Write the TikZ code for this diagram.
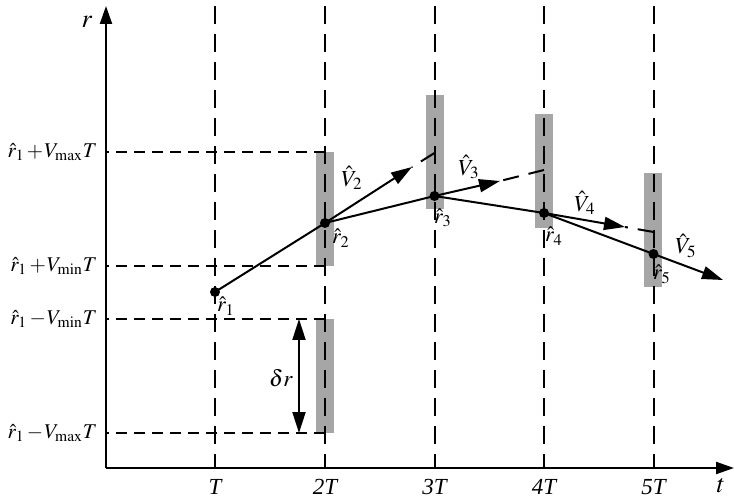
\documentclass[tikz,border=0pt]{standalone}
\usepackage{mathptmx}
\usepackage[no-math]{fontspec}
\setmainfont{Liberation Serif}
\usetikzlibrary{arrows.meta,positioning}
\definecolor{bandgray}{RGB}{166,166,166}

\begin{document}
\fontsize{11}{13}\selectfont
\begin{tikzpicture}[x=0.5pt,y=-0.5pt,>={Triangle[length=10.5pt,width=6.5pt]},
  axis/.style={line width=1.1pt,-{Triangle[length=9pt,width=6pt]}},
  vdash/.style={line width=1pt,dash pattern=on 9pt off 5pt},
  hdash/.style={line width=1pt,dash pattern=on 5.5pt off 3.5pt},
  extdash/.style={line width=1pt,dash pattern=on 8pt off 5pt},
  band/.style={fill=bandgray},
  track/.style={line width=1pt},
  est/.style={circle,fill=black,inner sep=0pt,minimum size=5pt},
  big/.style={font=\fontsize{13}{15}\selectfont},
  mid/.style={font=\fontsize{11.5}{14}\selectfont},
  bound/.style={anchor=east,font=\fontsize{10.5}{13}\selectfont}]
  \useasboundingbox (0,0) rectangle (734,497);
  \coordinate (O) at (106,468);
  \coordinate (Ytop) at (106,6);
  \coordinate (Xend) at (734,468);
  % search windows
  \fill[band] (316,319) rectangle (334,433);
  \fill[band] (316,152) rectangle (334,266);
  \fill[band] (426,95) rectangle (444,209);
  \fill[band] (535,114) rectangle (553,228);
  \fill[band] (644,173) rectangle (662,287);
  % sampling instants
  \foreach \i/\x/\txt in {1/215/T,2/325/2T,3/434.5/3T,4/544/4T,5/653.5/5T}{
    \coordinate (Top\i) at (\x,6);
    \coordinate (T\i) at (\x,468);
    \draw[vdash] (Top\i) -- (T\i);
    \node[mid] (tl\i) at (\x,487) {\itshape\txt};
  }
  % bounds
  \foreach \n/\y in {a/152,b/266,c/319,d/433}{
    \coordinate (B\n) at (325,\y);
    \coordinate (A\n) at (106,\y);
    \draw[hdash] (B\n) -- (A\n);
  }
  \node[bound] (la) at (105,152) {$\hat{r}_1\mkern2mu{+}\mkern1mu V_{\max}T$};
  \node[bound] (lb) at (105,266) {$\hat{r}_1\mkern2mu{+}\mkern1mu V_{\min}T$};
  \node[bound] (lc) at (105,319) {$\hat{r}_1\mkern2mu{-}\mkern1mu V_{\min}T$};
  \node[bound] (ld) at (105,433) {$\hat{r}_1\mkern2mu{-}\mkern1mu V_{\max}T$};
  % axes
  \draw[axis] (O) -- (Ytop);
  \draw[axis] (O) -- (Xend);
  \node[big] (rlab) at (87,22) {$r$};
  \node[big] (tlab) at (721,486) {$t$};
  % window width
  \coordinate (Dc) at (299,319);
  \coordinate (Dd) at (299,433);
  \draw[line width=1pt,<->] (Dc) -- (Dd);
  \node[mid] (dr) at (281,378) {$\delta r$};
  % estimates
  \node[est] (r1) at (215,292) {};
  \node[est] (r2) at (325,223) {};
  \node[est] (r3) at (434.5,196) {};
  \node[est] (r4) at (544,213) {};
  \node[est] (r5) at (653.5,254) {};
  \draw[track] (r1.center) -- (r2.center) -- (r3.center) -- (r4.center) -- (r5.center);
  \node (lr1) at (226,306) {$\hat{r}_1$};
  \node (lr2) at (341,238) {$\hat{r}_2$};
  \node (lr3) at (443,218) {$\hat{r}_3$};
  \node (lr4) at (554,236) {$\hat{r}_4$};
  \node (lr5) at (662,274) {$\hat{r}_5$};
  % velocity vectors
  \coordinate (V2tip) at (412,167);
  \coordinate (V2end) at (434.5,153);
  \coordinate (V3tip) at (500,181);
  \coordinate (V3end) at (544,170);
  \coordinate (V4tip) at (625,227);
  \coordinate (V4end) at (653.5,232);
  \coordinate (V5tip) at (723,280);
  \draw[track,->] (r2.center) -- (V2tip);
  \draw[extdash] (V2end) -- (V2tip);
  \draw[track,->] (r3.center) -- (V3tip);
  \draw[extdash] (V3end) -- (V3tip);
  \draw[track,->] (r4.center) -- (V4tip);
  \draw[extdash] (V4end) -- (V4tip);
  \draw[track,->] (r5.center) -- (V5tip);
  \node[mid] (lv2) at (352,178) {$\hat{V}_2$};
  \node[mid] (lv3) at (469,167) {$\hat{V}_3$};
  \node[mid] (lv4) at (585,203) {$\hat{V}_4$};
  \node[mid] (lv5) at (686,246) {$\hat{V}_5$};
\end{tikzpicture}
\end{document}
